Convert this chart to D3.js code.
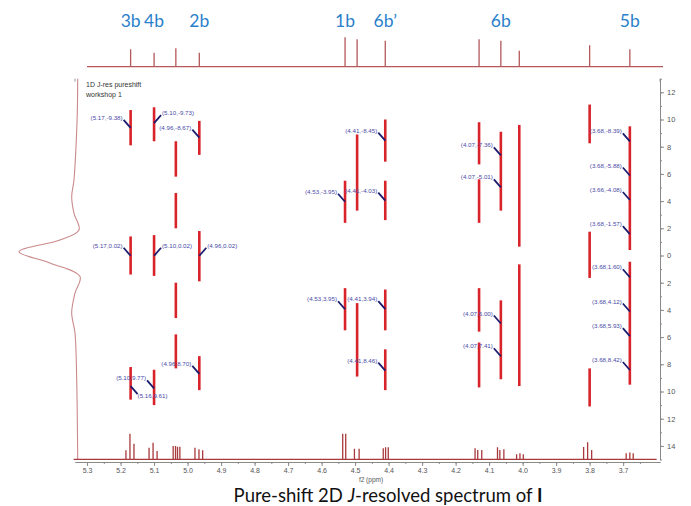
<!DOCTYPE html>
<html>
<head>
<meta charset="utf-8">
<script src="https://cdn.jsdelivr.net/npm/d3@7"></script>
<style>
  body { margin: 0; background: #fff; }
  svg { display: block; font-family: "Liberation Sans", Arial, sans-serif; }
</style>
</head>
<body>
<div id="chart"></div>
<script>
const W = 691, H = 506;

// proton assignments written above the spectrum
const assignLabels = ["3b", "4b", "2b", "1b", "6b\u2019", "6b", "5b"];
const assignPpm = [5.17, 5.10, 4.965, 4.53, 4.41, 4.065, 3.68];

// 2D J-res streaks: chemical shift (ppm) and J extent (Hz)
const streakPpm  = [5.17, 5.17, 5.17, 5.10, 5.10, 5.10, 5.035, 5.035, 5.035, 5.035,
                    4.965, 4.965, 4.965, 4.53, 4.53, 4.494, 4.494, 4.41, 4.41, 4.41, 4.41,
                    4.13, 4.13, 4.13, 4.13, 4.065, 4.065, 4.01, 4.01, 3.80, 3.80, 3.80, 3.68, 3.68];
const streakFrom = [-10.7, -1.4, 8.2, -10.9, -1.5, 8.4, -8.4, -4.6, 2.0, 5.8,
                    -9.9, -1.8, 7.4, -5.5, 2.4, -8.9, 3.5, -10.0, -5.5, 2.5, 6.9,
                    -9.8, -5.6, 2.4, 6.4, -9.1, 3.3, -9.6, 0.65, -11.1, -1.75, 8.3, -9.5, 0.46];
const streakTo   = [-8.1, 1.4, 10.6, -8.4, 1.5, 11.0, -5.8, -2.0, 4.6, 8.3,
                    -7.4, 1.9, 9.9, -2.4, 5.5, -3.3, 8.9, -6.9, -2.6, 5.5, 9.9,
                    -6.7, -2.4, 5.6, 9.7, -3.3, 9.1, -0.65, 9.6, -8.25, 1.65, 11.1, -0.4, 9.5];

// peak-pick annotations
const annText = ["(5.17,-9.38)", "(5.10,-9.73)", "(4.96,-8.67)", "(5.17,0.02)", "(5.10,0.02)", "(4.96,0.02)",
                 "(4.96,8.70)", "(5.10,9.77)", "(5.16,9.61)", "(4.41,-8.45)", "(4.53,-3.95)", "(4.41,-4.03)",
                 "(4.53,3.95)", "(4.41,3.94)", "(4.41,8.46)", "(4.07,-7.36)", "(4.07,-5.01)", "(4.07,5.00)",
                 "(4.07,7.41)", "(3.68,-8.39)", "(3.68,-5.88)", "(3.66,-4.08)", "(3.68,-1.57)", "(3.68,1.60)",
                 "(3.68,4.12)", "(3.68,5.93)", "(3.68,8.42)"];
const annPpm = [5.17, 5.10, 4.965, 5.17, 5.10, 4.965, 4.965, 5.10, 5.17, 4.41, 4.53, 4.41, 4.53, 4.41, 4.41,
                4.065, 4.065, 4.065, 4.065, 3.68, 3.68, 3.68, 3.68, 3.68, 3.68, 3.68, 3.68];
const annHz = [-9.38, -9.73, -8.67, 0.02, 0.02, 0.02, 8.70, 9.77, 9.61, -8.45, -3.95, -4.03, 3.95, 3.94, 8.46,
               -7.36, -5.01, 5.00, 7.41, -8.39, -5.88, -4.08, -1.57, 1.60, 4.12, 5.93, 8.42];

// top projection (pure shift 1D)
const topPpm = [5.17, 5.10, 5.035, 4.965, 4.53, 4.494, 4.41, 4.13, 4.065, 4.01, 3.80, 3.68];
const topInt = [17.4, 14, 18.4, 14, 29.4, 27.4, 26, 27.4, 26, 16, 21.4, 17.4];

// bottom 1H spectrum
const botPpm = [5.184, 5.172, 5.160, 5.115, 5.103, 5.091, 5.043, 5.036, 5.030, 5.023,
                4.978, 4.966, 4.955, 4.537, 4.528, 4.502, 4.488, 4.416, 4.409, 4.401,
                4.142, 4.134, 4.122, 4.075, 4.068, 4.056, 4.018, 4.008, 3.998,
                3.818, 3.806, 3.794, 3.691, 3.680, 3.670];
const botInt = [9, 25.6, 15.6, 11.6, 16.6, 8.3, 13.3, 13.3, 12.5, 12.5,
                11.6, 10, 9, 25.6, 25.6, 10.6, 10.6, 11, 12, 12,
                11, 9.3, 9.3, 12, 9.3, 10, 5, 6, 5,
                12.3, 17, 9.3, 6, 6.7, 6];

// left projection along f1 (Hz vs intensity)
const leftHz  = [-13, -10.5, -8.0, -5.55, -4.32, -3.1, -1.88, -1.14, -0.28, 0.55, 1.55, 2.76, 4.23, 5.7, 9.15, 15];
const leftInt = [0.5, 1.2, 3.4, 6.8, 10.7, 6.8, -1.7, 30.7, 100, 47.7, -3.4, 5.1, 10.7, 5.1, 2.2, 0.5];

const xMajor = d3.range(5.3, 3.65, -0.1).map(v => +v.toFixed(2));
const xMinor = d3.range(5.3, 3.6, -0.05).map(v => +v.toFixed(2));
const yMajor = d3.range(-12, 15, 2);
const yMinor = d3.range(-13, 16, 1);

const svg = d3.select("#chart").append("svg")
    .attr("width", W)
    .attr("height", H);

const x = d3.scaleLinear().domain([5.336, 3.59]).range([75, 660]);
const y = d3.scaleLinear().domain([-13, 15]).range([78.7, 459.5]);
const yTop = d3.scaleLinear().domain([0, 30]).range([66.7, 36.7]);
const yBot = d3.scaleLinear().domain([0, 30]).range([459.3, 429.3]);
const xLeft = d3.scaleLinear().domain([0, 100]).range([78, 19]);

// assignment labels
svg.append("g").selectAll("text")
    .data(assignLabels)
    .enter().append("text")
    .attr("x", (d, i) => x(assignPpm[i]))
    .attr("y", 27)
    .attr("text-anchor", "middle")
    .style("font-family", "Lato, 'Open Sans', sans-serif")
    .style("font-size", "17.5px")
    .style("fill", "#2a7fcb")
    .text(d => d);

// top projection
let topPath = `M${x(5.30)},${yTop(0)}`;
topPpm.forEach((p, i) => {
    topPath += `L${x(p)},${yTop(0)}L${x(p)},${yTop(topInt[i])}L${x(p)},${yTop(0)}`;
});
topPath += `L${x(3.581)},${yTop(0)}`;
svg.append("path")
    .attr("d", topPath)
    .attr("fill", "none")
    .attr("stroke", "#b4585a")
    .attr("stroke-width", 1.3);

// corner marks of the 2D frame
svg.append("path")
    .attr("d", `M${x(5.336)},${y(-13)}v3M660,${y(-13)}v3`)
    .attr("stroke", "#999");

// little title of the data set
svg.append("text").attr("x", 86).attr("y", 87)
    .style("font-size", "7px").style("fill", "#333").text("1D J-res pureshift");
svg.append("text").attr("x", 86).attr("y", 97)
    .style("font-size", "7px").style("fill", "#333").text("workshop 1");

// left projection
const leftLine = d3.line()
    .x((d, i) => xLeft(leftInt[i]))
    .y(d => y(d))
    .curve(d3.curveCatmullRom.alpha(0.5));
svg.append("path")
    .datum(leftHz)
    .attr("d", leftLine)
    .attr("fill", "none")
    .attr("stroke", "#c98a8c")
    .attr("stroke-width", 1.1);

// 2D streaks
svg.append("g").selectAll("line")
    .data(streakPpm)
    .enter().append("line")
    .attr("x1", d => x(d))
    .attr("x2", d => x(d))
    .attr("y1", (d, i) => y(streakFrom[i]))
    .attr("y2", (d, i) => y(streakTo[i]))
    .attr("stroke", "#d8232a")
    .attr("stroke-width", 2.6);

// annotations: most sit up-left of the peak, a few to the right
const rightSide = [1, 4, 5];
const belowRight = [8];
const ann = svg.append("g");
annText.forEach((t, i) => {
    const px = x(annPpm[i]), py = y(annHz[i]);
    let tx, ty, anchor, lx, ly;
    if (belowRight.includes(i)) {
        tx = px + 7; ty = py + 12; anchor = "start"; lx = px + 7; ly = py + 8;
    } else if (rightSide.includes(i)) {
        tx = px + 8; ty = py - 8; anchor = "start"; lx = px + 7; ly = py - 8;
    } else {
        tx = px - 8; ty = py - 8; anchor = "end"; lx = px - 7; ly = py - 8;
    }
    ann.append("line")
        .attr("x1", lx).attr("y1", ly)
        .attr("x2", px).attr("y2", py)
        .attr("stroke", "#1b1b6e")
        .attr("stroke-width", 1.8);
    ann.append("text")
        .attr("x", tx).attr("y", ty)
        .attr("text-anchor", anchor)
        .style("font-size", "6.2px")
        .style("fill", "#4a4aa6")
        .text(t);
});

// bottom 1H spectrum
let botPath = `M${x(5.34)},${yBot(0)}`;
botPpm.forEach((p, i) => {
    botPath += `L${x(p)},${yBot(0)}L${x(p)},${yBot(botInt[i])}L${x(p)},${yBot(0)}`;
});
botPath += `L${x(3.60)},${yBot(0)}`;
svg.append("path")
    .attr("d", botPath)
    .attr("fill", "none")
    .attr("stroke", "#a8393c")
    .attr("stroke-width", 1.3);

// x axis
const xAxisG = svg.append("g")
    .attr("transform", "translate(0,462)")
    .call(d3.axisBottom(x).tickValues(xMajor).tickSize(4).tickSizeOuter(0).tickFormat(d3.format(".1f")));
svg.append("g")
    .attr("transform", "translate(0,462)")
    .call(d3.axisBottom(x).tickValues(xMinor).tickSize(2).tickSizeOuter(0).tickFormat(""));
xAxisG.selectAll("text").style("font-size", "7px").style("fill", "#555").attr("dy", "0.6em");

svg.append("text")
    .attr("x", 371).attr("y", 481.5)
    .attr("text-anchor", "middle")
    .style("font-size", "6.5px").style("fill", "#555")
    .text("f2 (ppm)");

// y axis (J, Hz)
const yAxisG = svg.append("g")
    .attr("transform", "translate(660,0)")
    .call(d3.axisRight(y).tickValues(yMajor).tickSize(4).tickSizeOuter(0).tickFormat(d => Math.abs(d)));
svg.append("g")
    .attr("transform", "translate(660,0)")
    .call(d3.axisRight(y).tickValues(yMinor).tickSize(2).tickSizeOuter(0).tickFormat(""));
yAxisG.selectAll("text").style("font-size", "7.5px").style("fill", "#555");

svg.selectAll(".domain").attr("stroke", "#8a8a8a");
svg.selectAll(".tick line").attr("stroke", "#8a8a8a");

// caption
const cap = svg.append("text")
    .attr("x", 388)
    .attr("y", 502)
    .attr("text-anchor", "middle")
    .style("font-family", "Lato, 'Open Sans', sans-serif")
    .style("font-size", "18.5px")
    .style("fill", "#111");
cap.append("tspan").text("Pure-shift 2D ");
cap.append("tspan").style("font-style", "italic").text("J");
cap.append("tspan").text("-resolved spectrum of ");
cap.append("tspan").style("font-weight", "bold").text("I");
</script>
</body>
</html>
